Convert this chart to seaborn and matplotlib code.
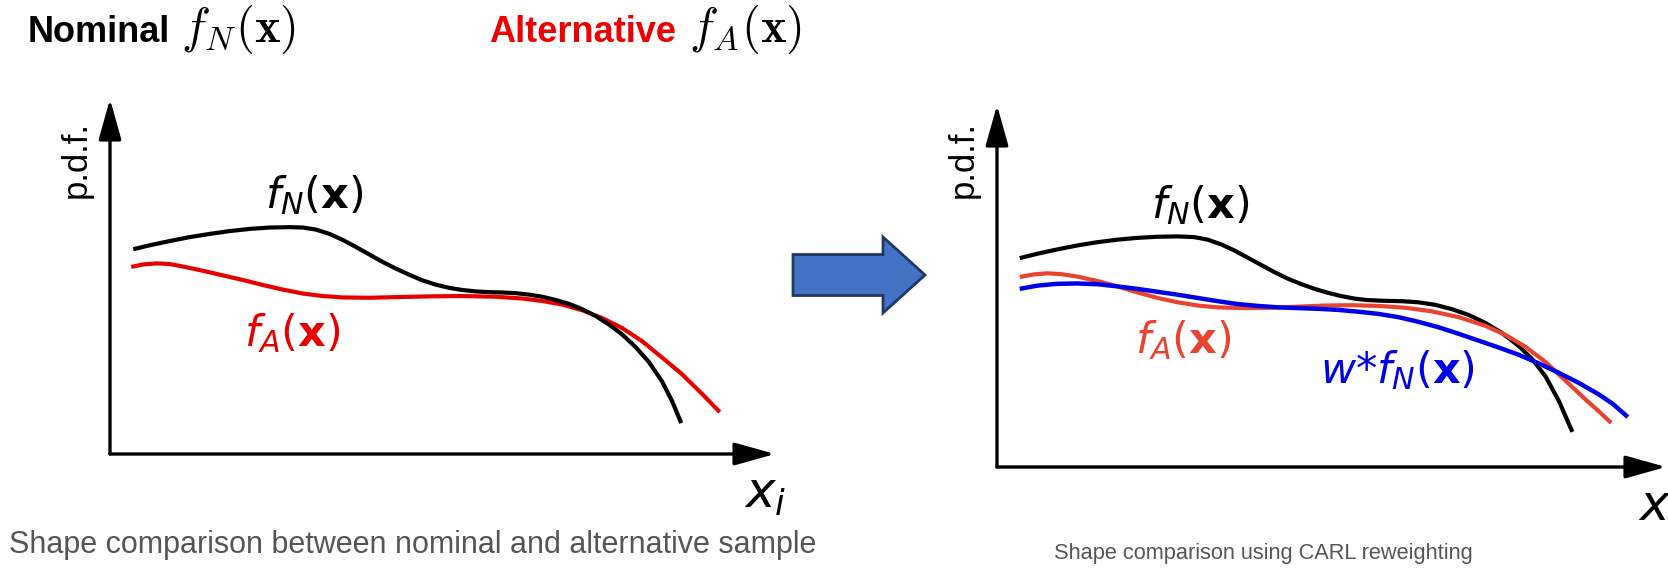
import numpy as np
import pandas as pd
import matplotlib
matplotlib.use("Agg")
import matplotlib.pyplot as plt
from matplotlib.patches import FancyArrow
import seaborn as sns

# ---------------- data (arbitrary units) ----------------
# left panel: nominal vs alternative
left_nom_x = [0.35, 0.6, 0.9, 1.2, 1.5, 1.8, 2.1, 2.4, 2.7, 2.9, 3.1, 3.3, 3.5, 3.7,
              3.9, 4.1, 4.3, 4.5, 4.7, 4.9, 5.1, 5.3, 5.5, 5.7, 5.9, 6.1, 6.3, 6.5,
              6.7, 6.9, 7.1, 7.3, 7.5, 7.7, 7.9, 8.1, 8.3, 8.45, 8.59]
left_nom_y = [0.577, 0.588, 0.600, 0.611, 0.620, 0.628, 0.634, 0.638, 0.639, 0.638,
              0.632, 0.620, 0.603, 0.583, 0.562, 0.541, 0.522, 0.505, 0.489, 0.477,
              0.468, 0.462, 0.458, 0.456, 0.455, 0.453, 0.449, 0.443, 0.434, 0.423,
              0.408, 0.389, 0.365, 0.337, 0.302, 0.260, 0.205, 0.150, 0.087]
left_alt_x = [0.32, 0.5, 0.7, 0.9, 1.1, 1.4, 1.7, 2.0, 2.3, 2.6, 2.9, 3.2, 3.5, 3.9,
              4.3, 4.8, 5.3, 5.8, 6.2, 6.5, 6.8, 7.1, 7.4, 7.7, 8.0, 8.3, 8.6, 8.9,
              9.17]
left_alt_y = [0.527, 0.534, 0.537, 0.535, 0.528, 0.516, 0.503, 0.490, 0.476, 0.463,
              0.452, 0.445, 0.441, 0.440, 0.442, 0.444, 0.445, 0.443, 0.438, 0.431,
              0.421, 0.405, 0.383, 0.355, 0.318, 0.272, 0.225, 0.170, 0.118]

# right panel: nominal, alternative and reweighted nominal
right_nom_x = [0.34, 0.6, 0.9, 1.2, 1.5, 1.8, 2.1, 2.4, 2.7, 2.95, 3.15, 3.35, 3.55,
               3.75, 3.95, 4.15, 4.35, 4.55, 4.75, 4.95, 5.15, 5.35, 5.55, 5.8, 6.05,
               6.3, 6.55, 6.8, 7.05, 7.3, 7.55, 7.8, 8.0, 8.2, 8.4, 8.6]
right_nom_y = [0.577, 0.589, 0.601, 0.612, 0.621, 0.628, 0.633, 0.636, 0.637, 0.635,
               0.628, 0.615, 0.598, 0.578, 0.558, 0.538, 0.520, 0.505, 0.492, 0.481,
               0.472, 0.465, 0.461, 0.459, 0.458, 0.455, 0.448, 0.436, 0.420, 0.398,
               0.370, 0.334, 0.298, 0.250, 0.182, 0.097]
right_alt_x = [0.34, 0.55, 0.75, 0.95, 1.2, 1.5, 1.8, 2.1, 2.4, 2.7, 3.0, 3.3, 3.7,
               4.1, 4.5, 4.9, 5.3, 5.7, 6.1, 6.5, 6.9, 7.3, 7.6, 7.9, 8.2, 8.5, 8.8,
               9.0, 9.18]
right_alt_y = [0.525, 0.532, 0.535, 0.533, 0.526, 0.514, 0.499, 0.482, 0.467, 0.455,
               0.446, 0.441, 0.439, 0.440, 0.443, 0.446, 0.447, 0.445, 0.440, 0.430,
               0.414, 0.390, 0.365, 0.332, 0.290, 0.238, 0.186, 0.153, 0.122]
right_rw_x = [0.34, 0.6, 0.9, 1.2, 1.5, 1.8, 2.1, 2.4, 2.7, 3.0, 3.3, 3.6, 3.9, 4.2,
              4.5, 4.8, 5.1, 5.4, 5.7, 6.0, 6.3, 6.6, 6.9, 7.2, 7.5, 7.8, 8.1, 8.4,
              8.7, 9.0, 9.2, 9.43]
right_rw_y = [0.492, 0.501, 0.506, 0.507, 0.505, 0.499, 0.492, 0.484, 0.476, 0.467,
              0.458, 0.450, 0.445, 0.441, 0.439, 0.437, 0.434, 0.429, 0.423, 0.414,
              0.401, 0.386, 0.368, 0.349, 0.330, 0.310, 0.286, 0.260, 0.232, 0.200,
              0.175, 0.138]

title_nom = "Nominal"
title_alt = "Alternative"
caption_left = "Shape comparison between nominal and alternative sample"
caption_right = "Shape comparison using CARL reweighting"
ylabel = "p.d.f."

# ---------------- styling ----------------
sns.set_theme(style="white")
plt.rcParams["font.family"] = ["Liberation Sans", "DejaVu Sans"]

W, H = 1668, 568
fig = plt.figure(figsize=(W / 100, H / 100), dpi=100)

BLACK = "#000000"
RED_L = "#E60000"
RED_R = "#E8432F"
BLUE = "#0000E6"
GREY = "#555555"


def px_axes(x0, y0, x1, y1):
    """axes whose lower-left corner is (x0,y0) px and upper-right (x1,y1) px (y from top)."""
    return fig.add_axes([x0 / W, 1 - y0 / H, (x1 - x0) / W, (y0 - y1) / H])


def arrow_axes(ax):
    for s in ax.spines.values():
        s.set_visible(False)
    ax.set_xticks([])
    ax.set_yticks([])
    ax.set_xlim(0, 10)
    ax.set_ylim(0, 1)
    ax.set_facecolor("none")
    ap = dict(arrowstyle="-|>,head_length=2.5,head_width=0.7", lw=2.4,
              color="black", shrinkA=0, shrinkB=0, mutation_scale=10)
    ax.annotate("", xy=(1, 0), xytext=(0, 0), xycoords="axes fraction",
                textcoords="axes fraction", arrowprops=ap, annotation_clip=False)
    ax.annotate("", xy=(0, 1), xytext=(0, 0), xycoords="axes fraction",
                textcoords="axes fraction", arrowprops=ap, annotation_clip=False)


def draw(ax, xs, ys, color, lw=3.0):
    df = pd.DataFrame({"x": xs, "y": ys})
    sns.lineplot(data=df, x="x", y="y", ax=ax, color=color, lw=lw, sort=False,
                 estimator=None, solid_capstyle="butt", solid_joinstyle="round")


LBL = 31

# left panel
axL = px_axes(110, 454, 775, 99)
arrow_axes(axL)
draw(axL, left_alt_x, left_alt_y, RED_L)
draw(axL, left_nom_x, left_nom_y, BLACK)
axL.set_xlabel("")
axL.set_ylabel("")
axL.text(3.07, 0.73, r"$f_N(\mathbf{x})$", color=BLACK, fontsize=LBL,
         ha="center", va="center", math_fontfamily="dejavusans")
axL.text(2.74, 0.34, r"$f_A(\mathbf{x})$", color=RED_L, fontsize=LBL,
         ha="center", va="center", math_fontfamily="dejavusans")

# right panel
axR = px_axes(997, 467, 1666, 105)
arrow_axes(axR)
draw(axR, right_nom_x, right_nom_y, BLACK)
draw(axR, right_alt_x, right_alt_y, RED_R)
draw(axR, right_rw_x, right_rw_y, BLUE, lw=3.2)
axR.set_xlabel("")
axR.set_ylabel("")
axR.text(3.03, 0.724, r"$f_N(\mathbf{x})$", color=BLACK, fontsize=LBL,
         ha="center", va="center", math_fontfamily="dejavusans")
axR.text(2.78, 0.351, r"$f_A(\mathbf{x})$", color=RED_R, fontsize=LBL,
         ha="center", va="center", math_fontfamily="dejavusans")
axR.text(5.99, 0.268, r"$w{*}f_N(\mathbf{x})$", color=BLUE, fontsize=LBL,
         ha="center", va="center", math_fontfamily="dejavusans")

# overlay in pixel coordinates for free text and the block arrow
ov = fig.add_axes([0, 0, 1, 1], zorder=-1)
ov.set_xlim(0, W)
ov.set_ylim(H, 0)
ov.axis("off")

ov.add_patch(FancyArrow(793, 275, 132, 0, width=41, head_width=76, head_length=42,
                        length_includes_head=True, fc="#4472C4", ec="#1F3864", lw=2))

ov.text(76, 160, ylabel, rotation=90, fontsize=25, ha="center", va="center", color=BLACK)
ov.text(963, 160, ylabel, rotation=90, fontsize=25, ha="center", va="center", color=BLACK)

ov.text(744, 508, r"$x_i$", fontsize=36, ha="left", va="baseline",
        math_fontfamily="dejavusans", color=BLACK)
ov.text(1638, 520, r"$x$", fontsize=36, ha="left", va="baseline",
        math_fontfamily="dejavusans", color=BLACK)

ov.text(28, 42, title_nom, fontsize=26, fontweight="bold", ha="left", va="baseline", color=BLACK)
ov.text(181, 42, r"$f_N(\mathbf{x})$", fontsize=35, ha="left", va="baseline",
        math_fontfamily="cm", color=BLACK)
ov.text(489, 42, title_alt, fontsize=26, fontweight="bold", ha="left", va="baseline", color="#EE0000")
ov.text(689, 42, r"$f_A(\mathbf{x})$", fontsize=35, ha="left", va="baseline",
        math_fontfamily="cm", color=BLACK)

ov.text(9, 545, caption_left, fontsize=22, ha="left", va="center", color=GREY)
ov.text(1263, 553, caption_right, fontsize=15.7, ha="center", va="center", color=GREY)

fig.savefig("out.png", dpi=100, facecolor="white")
